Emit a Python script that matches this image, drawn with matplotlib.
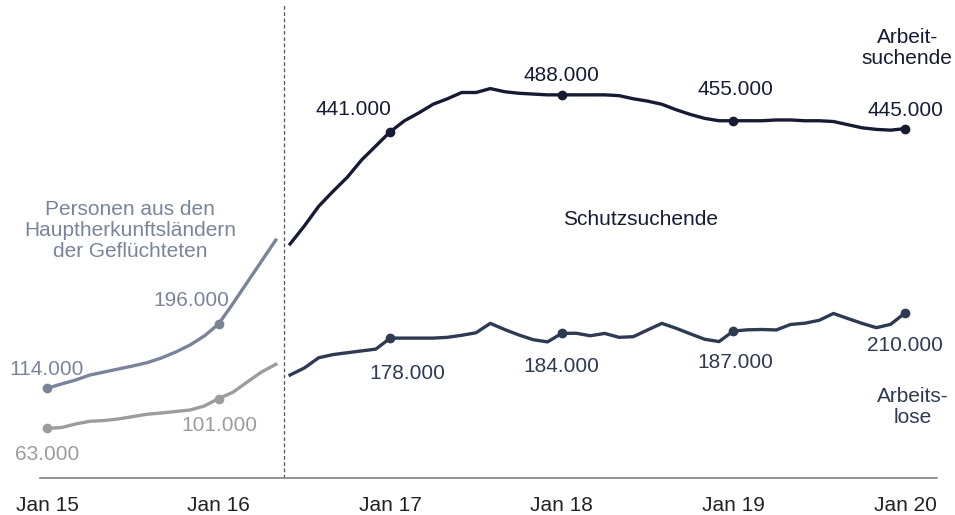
import matplotlib
matplotlib.use("Agg")
import matplotlib.pyplot as plt

# Fuente tipo Arial
plt.rcParams['font.family'] = ['Liberation Sans', 'DejaVu Sans']

### ---------------------------------------------------------------------------
### DATOS (miles de personas, meses desde Jan 15)
### ---------------------------------------------------------------------------
# Tramo izquierdo: Jan 15 .. May 16
meses_antes = list(range(0, 17))
herkunft_suchend = [114, 119.5, 124.6, 131, 134.8, 138.7, 142.5, 146.7, 152.7,
                    160.3, 169.2, 180.7, 196, 222, 249, 276, 303]
herkunft_los = [63, 64, 68.6, 72, 73, 75, 78, 81, 82.6, 84.5, 86.4, 91.5,
                101, 109, 122, 134.8, 144.6]

# Tramo derecho: Jun 16 .. Jan 20
meses_despues = list(range(17, 61))
schutz_suchend = [298, 321, 346, 365, 383, 405, 423, 441, 455, 465, 476, 483,
                  491, 491, 496, 492, 490, 489, 488, 488, 488, 488, 488, 487,
                  483, 480, 476, 469, 463, 458, 455, 455, 455, 455, 456, 456,
                  455, 455, 454, 450, 446, 444, 443, 445]
schutz_los = [131, 140, 153, 157, 159.4, 161.7, 164, 178, 178, 178, 178, 179,
              181.6, 184.8, 196.8, 189, 182, 176, 173.2, 184, 184.2, 181, 184,
              179, 179.8, 188.4, 196.8, 190.5, 183.4, 176.5, 173.6, 187, 188.6,
              189, 188.4, 195.4, 197, 200.7, 209.4, 203, 196.8, 191.3, 195.6, 210]

# Etiquetas del eje X
ticks_x = [0, 12, 24, 36, 48, 60]
etiquetas_x = ['Jan 15', 'Jan 16', 'Jan 17', 'Jan 18', 'Jan 19', 'Jan 20']

# Colores
c_suchend = '#161b33'
c_los = '#2e3a52'
c_herk_s = '#7a8499'
c_herk_l = '#9c9c9c'

### ---------------------------------------------------------------------------
### FIGURA
### ---------------------------------------------------------------------------
fig = plt.figure(figsize=(9.55, 5.15), dpi=100)
ax = fig.add_axes([40 / 955, 1 - 477.8 / 515, 897 / 955, 472.8 / 515])
ax.set_xlim(-0.49, 62.24)
ax.set_ylim(0, 602.5)

# Solo el eje inferior
for s in ['top', 'right', 'left']:
    ax.spines[s].set_visible(False)
ax.spines['bottom'].set_color('#808080')
ax.spines['bottom'].set_linewidth(1.2)
ax.set_yticks([])
ax.set_xticks(ticks_x)
ax.set_xticklabels(etiquetas_x, fontsize=15, color='#222222')
ax.tick_params(axis='x', length=0, pad=13)

# Linea discontinua de separacion
ax.axvline(16.55, color='#555555', lw=0.9, ls=(0, (3, 2)))

# Lineas
ax.plot(meses_antes, herkunft_suchend, color=c_herk_s, lw=2.4,
        marker='o', markersize=6, markevery=[0, 12])
ax.plot(meses_antes, herkunft_los, color=c_herk_l, lw=2.4,
        marker='o', markersize=6, markevery=[0, 12])
ax.plot(meses_despues, schutz_suchend, color=c_suchend, lw=2.4,
        marker='o', markersize=6, markevery=[7, 19, 31, 43])
ax.plot(meses_despues, schutz_los, color=c_los, lw=2.4,
        marker='o', markersize=6, markevery=[7, 19, 31, 43])


# Etiqueta de valor junto a un punto (desplazamiento en pixeles)
def etiqueta(x, y, texto, dx, dy, color):
    ax.annotate(texto, (x, y), xytext=(dx, dy), textcoords='offset pixels',
                ha='center', va='baseline', fontsize=15, color=color)


etiqueta(0, herkunft_suchend[0], '114.000', 0, 13, c_herk_s)
etiqueta(12, herkunft_suchend[12], '196.000', -27, 18, c_herk_s)
etiqueta(0, herkunft_los[0], '63.000', 0, -32, c_herk_l)
etiqueta(12, herkunft_los[12], '101.000', 1, -32, c_herk_l)

etiqueta(24, schutz_suchend[7], '441.000', -37, 17, c_suchend)
etiqueta(36, schutz_suchend[19], '488.000', 0, 14, c_suchend)
etiqueta(48, schutz_suchend[31], '455.000', 2, 26, c_suchend)
etiqueta(60, schutz_suchend[43], '445.000', 0, 13, c_suchend)

etiqueta(24, schutz_los[7], '178.000', 17, -41, c_los)
etiqueta(36, schutz_los[19], '184.000', 0, -39, c_los)
etiqueta(48, schutz_los[31], '187.000', 2, -37, c_los)
etiqueta(60, schutz_los[43], '210.000', 0, -38, c_los)

# Textos descriptivos
ax.text(5.8, 315, 'Personen aus den\nHauptherkunftsländern\nder Geflüchteten',
        ha='center', va='center', fontsize=15, color=c_herk_s, linespacing=1.15)
ax.text(60.15, 548, 'Arbeit-\nsuchende', ha='center', va='center',
        fontsize=15, color=c_suchend, linespacing=1.1)
ax.text(60.55, 90, 'Arbeits-\nlose', ha='center', va='center',
        fontsize=15, color=c_los, linespacing=1.1)
ax.text(41.5, 329, 'Schutzsuchende', ha='center', va='center',
        fontsize=15, color=c_suchend)

fig.savefig('out.png', dpi=100)
